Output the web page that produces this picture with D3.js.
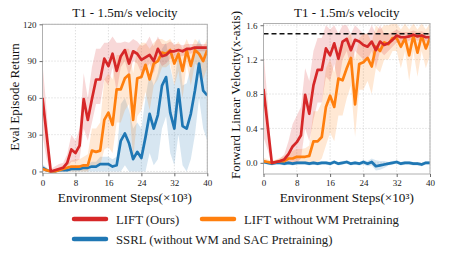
<!DOCTYPE html>
<html><head><meta charset="utf-8">
<script src="https://cdn.jsdelivr.net/npm/d3@7"></script>
<style>body{margin:0;background:#fff}svg{display:block}text{font-family:"Liberation Serif","Times New Roman",serif}</style>
</head><body>
<script>
const steps = [0,1,2,3,4,5,6,7,8,9,10,11,12,13,14,15,16,17,18,19,20,21,22,23,24,25,26,27,28,29,30,31,32,33,34,35,36,37,38,39,40];
const xTicks = [0,8,16,24,32,40];
const leftYTicks = [0,30,60,90,120];
const rightYTicks = [0.0,0.4,0.8,1.2,1.6];
const titleText = "T1 - 1.5m/s velocity";
const xLabel = "Environment Steps(×10³)";
const seriesNames = ["LIFT (Ours)", "LIFT without WM Pretraining", "SSRL (without WM and SAC Pretraining)"];
const seriesColors = ["#d62728", "#ff7f0e", "#1f77b4"];
const targetVelocity = 1.5;

// Left: Eval Episode Return
const retLift = [60,30,0,1,2,3,7,18,15,21,59,42,59,75,75,92,86,96,82,94,99,88,98,96,91,93,95,90,100,94,95,98,98,99,98,100,100,101,101,101,101];
const retLiftLo = [30,10,0,0,0,1,3,8,8,10,35,25,40,55,55,75,70,85,65,85,90,78,90,88,80,84,88,80,92,86,88,92,93,94,94,96,96,98,98,98,98];
const retLiftHi = [88,50,2,4,6,7,14,30,25,35,80,60,85,100,100,105,105,110,105,105,106,105,108,106,102,104,110,102,110,104,104,106,104,104,103,104,104,104,104,104,104];
const retNoWM = [2,1,0,0,1,2,3,4,4,4,5,5,17,16,17,42,48,38,67,67,76,79,42,76,77,87,75,88,90,97,96,99,88,96,82,99,86,99,96,90,99];
const retNoWMLo = [0,0,0,0,0,0,0,0,0,0,0,0,5,5,5,18,20,15,40,40,50,55,10,45,50,65,50,70,75,85,85,88,70,82,60,88,70,88,85,75,85];
const retNoWMHi = [4,3,1,2,3,5,7,9,10,10,12,14,35,35,40,75,80,75,95,95,100,100,80,100,105,105,100,105,108,108,106,108,102,106,100,108,100,108,105,102,108];
const retSSRL = [3,1,0,0,1,1,1,2,2,2,3,3,4,4,6,6,6,4,5,25,31,23,10,16,11,28,47,35,46,70,77,48,35,67,37,35,47,66,88,66,62];
const retSSRLLo = [0,0,0,0,0,0,0,0,0,0,0,0,0,0,0,0,0,0,0,0,5,0,0,0,0,0,15,5,10,35,45,15,5,30,5,0,10,30,60,35,25];
const retSSRLHi = [6,3,1,1,2,3,3,4,4,5,6,6,8,8,12,12,12,10,12,55,60,50,35,40,35,60,80,70,80,100,105,85,70,100,70,72,85,100,108,100,100];

// Right: Forward Linear Velocity
const velLift = [0.86,0.43,0.0,0.01,0.02,0.04,0.10,0.19,0.24,0.32,0.79,0.57,0.90,1.08,1.08,1.33,1.25,1.39,1.21,1.41,1.44,1.31,1.43,1.41,1.37,1.35,1.41,1.31,1.41,1.37,1.39,1.43,1.48,1.46,1.46,1.47,1.49,1.47,1.48,1.46,1.46];
const velLiftLo = [0.3,0.15,0,0,0,0,0,0,0,0.05,0.4,0.25,0.5,0.7,0.7,1.0,0.95,1.15,0.9,1.2,1.3,1.1,1.3,1.25,1.2,1.2,1.3,1.1,1.3,1.25,1.3,1.35,1.4,1.4,1.4,1.42,1.44,1.42,1.43,1.41,1.41];
const velLiftHi = [1.3,0.7,0.02,0.03,0.05,0.1,0.25,0.45,0.55,0.65,1.1,0.95,1.3,1.45,1.45,1.6,1.55,1.6,1.5,1.6,1.6,1.5,1.6,1.55,1.5,1.5,1.6,1.5,1.6,1.5,1.5,1.52,1.55,1.52,1.52,1.52,1.54,1.52,1.53,1.51,1.51];
const velNoWM = [0.02,0.01,0.0,0.01,0.02,0.02,0.05,0.05,0.07,0.07,0.07,0.08,0.25,0.25,0.30,0.65,0.78,0.65,0.98,0.96,1.10,1.22,0.68,1.15,1.17,1.22,1.12,1.35,1.30,1.40,1.38,1.45,1.45,1.35,1.45,1.25,1.48,1.28,1.48,1.33,1.45];
const velNoWMLo = [0,0,0,0,0,0,0,0,0,0,0,0,0,0,0.05,0.2,0.35,0.25,0.55,0.55,0.75,0.9,0.3,0.85,0.85,0.95,0.8,1.1,1.05,1.2,1.2,1.3,1.3,1.1,1.3,0.95,1.3,1.0,1.3,1.1,1.25];
const velNoWMHi = [0.06,0.04,0.02,0.04,0.06,0.08,0.12,0.14,0.16,0.16,0.17,0.2,0.6,0.6,0.7,1.1,1.2,1.05,1.35,1.35,1.45,1.5,1.2,1.45,1.5,1.5,1.4,1.6,1.55,1.6,1.6,1.62,1.62,1.55,1.62,1.55,1.62,1.55,1.62,1.55,1.62];
const velSSRL = [0.01,0.0,-0.01,0.0,0.0,-0.01,0.0,-0.01,0.0,0.0,0.0,-0.01,0.0,-0.01,0.0,0.0,-0.01,0.01,-0.01,0.0,0.01,-0.01,0.0,-0.01,0.01,-0.01,0.01,-0.04,-0.03,-0.02,-0.01,0.0,0.01,-0.01,0.0,0.0,-0.01,-0.01,-0.02,0.0,0.0];
const velSSRLLo = [-0.01,-0.02,-0.03,-0.02,-0.02,-0.03,-0.02,-0.03,-0.02,-0.02,-0.02,-0.03,-0.02,-0.03,-0.02,-0.02,-0.03,-0.01,-0.03,-0.02,-0.01,-0.03,-0.02,-0.03,-0.02,-0.04,-0.03,-0.09,-0.08,-0.06,-0.03,-0.02,-0.01,-0.03,-0.02,-0.02,-0.03,-0.03,-0.04,-0.02,-0.02];
const velSSRLHi = [0.03,0.02,0.01,0.02,0.02,0.01,0.02,0.01,0.02,0.02,0.02,0.01,0.02,0.01,0.02,0.02,0.01,0.03,0.01,0.02,0.03,0.01,0.02,0.01,0.03,0.02,0.05,0.03,0.02,0.02,0.01,0.02,0.03,0.01,0.02,0.02,0.01,0.01,0.0,0.02,0.02];

const W = 457, H = 256;
const svg = d3.select("body").append("svg").attr("width", W).attr("height", H);

function panel(opts) {
  const x = d3.scaleLinear().domain([0, 40]).range([opts.x0, opts.x1]);
  const y = d3.scaleLinear().domain(opts.ydom).range([opts.yb, opts.yt]);
  const g = svg.append("g");
  g.selectAll(".gx").data(xTicks).enter().append("line")
    .attr("x1", d => x(d)).attr("x2", d => x(d)).attr("y1", opts.yt).attr("y2", opts.yb)
    .attr("stroke", "#c8c8c8").attr("stroke-width", 0.8).attr("stroke-dasharray", "1,2");
  g.selectAll(".gy").data(opts.yticks).enter().append("line")
    .attr("x1", opts.x0).attr("x2", opts.x1).attr("y1", d => y(d)).attr("y2", d => y(d))
    .attr("stroke", "#c8c8c8").attr("stroke-width", 0.8).attr("stroke-dasharray", "1,2");
  const clip = "clip" + opts.id;
  svg.append("clipPath").attr("id", clip).append("rect")
    .attr("x", opts.x0).attr("y", opts.yt).attr("width", opts.x1 - opts.x0).attr("height", opts.yb - opts.yt);
  const dg = g.append("g").attr("clip-path", `url(#${clip})`);
  const area = (lo, hi) => d3.area().x((d, i) => x(steps[i])).y0((d, i) => y(lo[i])).y1((d, i) => y(hi[i]))(steps);
  const line = (v) => d3.line().x((d, i) => x(steps[i])).y((d, i) => y(v[i]))(steps);
  const order = [2, 1, 0];
  order.forEach(k => {
    dg.append("path").attr("d", area(opts.lo[k], opts.hi[k])).attr("fill", seriesColors[k]).attr("fill-opacity", 0.18);
  });
  if (opts.target !== undefined) {
    dg.append("line").attr("x1", opts.x0).attr("x2", opts.x1).attr("y1", y(opts.target)).attr("y2", y(opts.target))
      .attr("stroke", "#111").attr("stroke-width", 1.5).attr("stroke-dasharray", "5,3");
  }
  order.forEach(k => {
    dg.append("path").attr("d", line(opts.mean[k])).attr("fill", "none").attr("stroke", seriesColors[k])
      .attr("stroke-width", 2.7).attr("stroke-linejoin", "round");
  });
  g.append("rect").attr("x", opts.x0).attr("y", opts.yt).attr("width", opts.x1 - opts.x0).attr("height", opts.yb - opts.yt)
    .attr("fill", "none").attr("stroke", "#b0b0b0").attr("stroke-width", 1);
  const ax = g.append("g").attr("transform", `translate(0,${opts.yb})`)
    .call(d3.axisBottom(x).tickValues(xTicks).tickSize(3).tickPadding(3).tickFormat(d3.format("d")));
  const ay = g.append("g").attr("transform", `translate(${opts.x0},0)`)
    .call(d3.axisLeft(y).tickValues(opts.yticks).tickSize(3).tickPadding(3).tickFormat(opts.fmt));
  [ax, ay].forEach(a => {
    a.attr("font-family", null);
    a.select(".domain").remove();
    a.selectAll(".tick line").attr("stroke", "#444").attr("stroke-width", 0.8);
    a.selectAll("text").attr("font-size", 9).attr("fill", "#222");
  });
  g.append("text").attr("x", (opts.x0 + opts.x1) / 2).attr("y", 16.5).attr("text-anchor", "middle")
    .attr("font-size", 13).attr("fill", "#111").text(titleText);
  g.append("text").attr("x", (opts.x0 + opts.x1) / 2).attr("y", 202).attr("text-anchor", "middle")
    .attr("font-size", 13.2).attr("fill", "#111").text(xLabel);
  g.append("text").attr("transform", `translate(${opts.ylx},${opts.ylc}) rotate(-90)`)
    .attr("text-anchor", "middle").attr("font-size", 13).attr("fill", "#111").text(opts.ylabel);
}

panel({id: "L", x0: 42.5, x1: 207.3, yt: 24.3, yb: 173.3, ydom: [-1.5, 120], yticks: leftYTicks,
  fmt: d3.format("d"), ylx: 18.5, ylc: 97, ylabel: "Eval Episode Return",
  mean: [retLift, retNoWM, retSSRL], lo: [retLiftLo, retNoWMLo, retSSRLLo], hi: [retLiftHi, retNoWMHi, retSSRLHi]});
panel({id: "R", x0: 263.5, x1: 430, yt: 23.5, yb: 174, ydom: [-0.13, 1.62], yticks: rightYTicks,
  fmt: d3.format(".1f"), ylx: 239.5, ylc: 95, ylabel: "Forward Linear Velocity(x-axis)", target: targetVelocity,
  mean: [velLift, velNoWM, velSSRL], lo: [velLiftLo, velNoWMLo, velSSRLLo], hi: [velLiftHi, velNoWMHi, velSSRLHi]});

const legendPos = [[73, 219], [201, 219], [73, 239]];
const lg = svg.append("g");
seriesNames.forEach((n, k) => {
  const [lx, ly] = legendPos[k];
  lg.append("line").attr("x1", lx + 1).attr("x2", lx + 33).attr("y1", ly).attr("y2", ly)
    .attr("stroke", seriesColors[k]).attr("stroke-width", 4.5).attr("stroke-linecap", "round");
  lg.append("text").attr("x", lx + 43).attr("y", ly + 4.5).attr("font-size", 12.75).attr("fill", "#222").text(n);
});
</script>
</body></html>
